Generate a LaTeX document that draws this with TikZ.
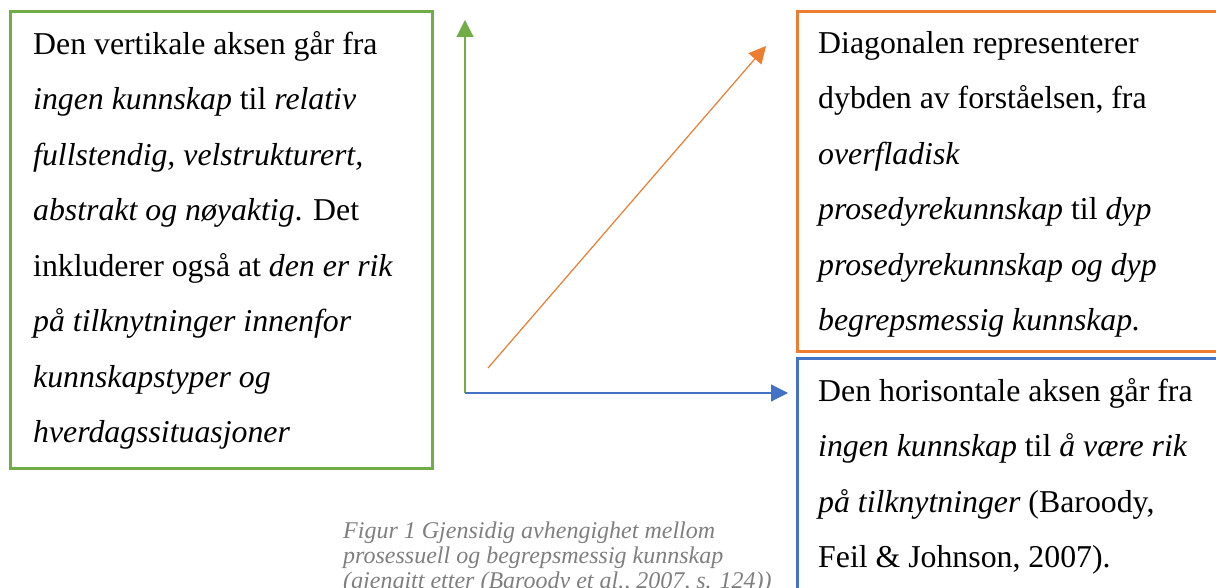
\documentclass[tikz,border=0pt]{standalone}
\usepackage{fontspec}
\setmainfont{Liberation Serif}
\usepackage{tikz}
\usetikzlibrary{arrows.meta}
\definecolor{vertc}{HTML}{70AD47}
\definecolor{diagc}{HTML}{ED7D31}
\definecolor{horic}{HTML}{4472C4}
\definecolor{captc}{HTML}{7F7F7F}
\tikzset{
  frame/.style={line width=3pt},
  boxtext/.style={anchor=north west, inner sep=0pt, align=left, font=\fontsize{31.8}{55.5}\selectfont},
  axis/.style={line width=1.2pt, -{Triangle[length=17pt,width=17pt]}},
  caption/.style={anchor=north west, inner sep=0pt, align=left, text=captc, font=\fontsize{24}{25}\selectfont\itshape},
}
\begin{document}
\begin{tikzpicture}[x=1pt,y=-1pt]
\useasboundingbox (0,0) rectangle (1216,588);
\clip (0,0) rectangle (1216,588);
% boxes
\draw[frame, draw=vertc] (10,12) rectangle (432,468);
\draw[frame, draw=diagc] (797,12) rectangle (1230,351);
\draw[frame, draw=horic] (797,358) rectangle (1230,600);
% axes
\coordinate (origo) at (465,393);
\coordinate (ytop) at (465,20);
\coordinate (xend) at (788,393);
\coordinate (dstart) at (488,368);
\coordinate (dend) at (766,46);
\draw[axis, draw=vertc, fill=vertc] (origo) -- (ytop);
\draw[axis, draw=horic, fill=horic] (origo) -- (xend);
\draw[axis, draw=diagc, fill=diagc] (dstart) -- (dend);
% texts
\node[boxtext] (vert) at (33,31) {Den vertikale aksen går fra\\
\textit{ingen kunnskap} til \textit{relativ}\\
\textit{fullstendig, velstrukturert,}\\
\textit{abstrakt og nøyaktig}. Det\\
inkluderer også at \textit{den er rik}\\
\textit{på tilknytninger innenfor}\\
\textit{kunnskapstyper og}\\
\textit{hverdagssituasjoner}};
\node[boxtext] (diag) at (818,31) {Diagonalen representerer\\
dybden av forståelsen, fra\\
\textit{overfladisk}\\
\textit{prosedyrekunnskap} til \textit{dyp}\\
\textit{prosedyrekunnskap og dyp}\\
\textit{begrepsmessig kunnskap.}};
\node[boxtext] (hori) at (818,378) {Den horisontale aksen går fra\\
\textit{ingen kunnskap} til \textit{å være rik}\\
\textit{på tilknytninger} (Baroody,\\
Feil \& Johnson, 2007).};
\node[caption] (figcap) at (343,522) {Figur 1 Gjensidig avhengighet mellom\\
prosessuell og begrepsmessig kunnskap\\
(gjengitt etter (Baroody et al., 2007, s. 124))};
\end{tikzpicture}
\end{document}
